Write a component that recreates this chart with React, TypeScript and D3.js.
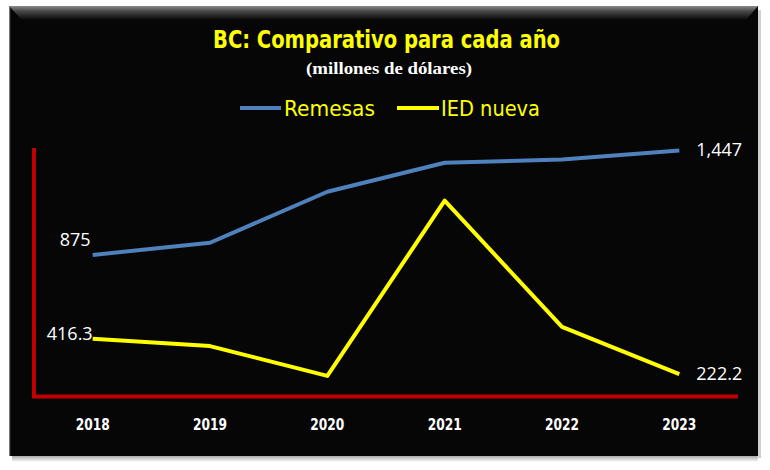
import React from "react";
import * as d3 from "d3";

const years = ["2018", "2019", "2020", "2021", "2022", "2023"];
const remesas = [875, 942, 1221, 1380, 1397, 1447];
const ied = [416.3, 376, 213, 1172, 481, 222.2];
const seriesNames = ["Remesas", "IED nueva"];
const yDomain = [100, 1500];

const W = 770;
const H = 470;

export default function App() {
  const x = d3.scaleBand<string>().domain(years).range([34, 738]);
  const cx = (d: string) => (x(d) as number) + x.bandwidth() / 2;
  const y = d3.scaleLinear().domain(yDomain).range([396.5, 140.8]);
  const line = d3
    .line<number>()
    .x((_, i) => cx(years[i]))
    .y((v) => y(v));

  const narrow = "'DejaVu Sans Condensed', 'Liberation Sans', sans-serif";
  const labelFont = "'Open Sans', 'Noto Sans', sans-serif";
  const last = years.length - 1;

  return (
    <svg
      width={W}
      height={H}
      style={{ position: "absolute", left: 0, top: 0, background: "#fff" }}
    >
      <defs>
        <linearGradient id="bevel" x1="0" y1="0" x2="0" y2="1">
          <stop offset="0" stopColor="#8a8a8a" />
          <stop offset="0.35" stopColor="#4a4a4a" />
          <stop offset="1" stopColor="#060606" />
        </linearGradient>
        <linearGradient id="shadow" x1="0" y1="0" x2="0" y2="1">
          <stop offset="0" stopColor="#9a9a9a" />
          <stop offset="1" stopColor="#ffffff" />
        </linearGradient>
      </defs>
      {/* shadow */}
      <rect x={12} y={455} width={746} height={7} fill="url(#shadow)" />
      <rect x={757} y={10} width={4} height={448} fill="#cfcfcf" />
      {/* panel */}
      <rect x={9} y={6} width={749} height={450} fill="#060606" />
      <path d="M9,6 L758,6 L746,20 L22,20 Z" fill="url(#bevel)" />
      <rect x={9} y={6} width={1.2} height={450} fill="#777" />

      {/* title */}
      <text
        x={213}
        y={48}
        textLength={347}
        lengthAdjust="spacingAndGlyphs"
        fill="#ffff00"
        fontFamily={narrow}
        fontWeight="bold"
        fontSize={25}
      >
        BC: Comparativo para cada año
      </text>
      <text
        x={306}
        y={74}
        textLength={166}
        lengthAdjust="spacingAndGlyphs"
        fill="#ffffff"
        fontFamily="'Liberation Serif', 'DejaVu Serif', serif"
        fontWeight="bold"
        fontSize={17}
      >
        (millones de dólares)
      </text>

      {/* legend */}
      <line x1={240} x2={281} y1={108} y2={108} stroke="#4f81bd" strokeWidth={4} />
      <text x={284} y={116} textLength={91} lengthAdjust="spacingAndGlyphs" fill="#ffff00" fontFamily={narrow} fontSize={22}>
        {seriesNames[0]}
      </text>
      <line x1={397} x2={439} y1={108} y2={108} stroke="#ffff00" strokeWidth={4} />
      <text x={441} y={116} textLength={99} lengthAdjust="spacingAndGlyphs" fill="#ffff00" fontFamily={narrow} fontSize={22}>
        {seriesNames[1]}
      </text>

      {/* axes */}
      <line x1={34} x2={34} y1={148} y2={398} stroke="#c00000" strokeWidth={4} />
      <line x1={32} x2={738} y1={396.5} y2={396.5} stroke="#c00000" strokeWidth={4} />

      {years.map((yr) => (
        <text
          key={yr}
          x={cx(yr) - 17}
          y={430}
          textLength={34}
          lengthAdjust="spacingAndGlyphs"
          fill="#ffffff"
          fontFamily="'DejaVu Sans Condensed', 'DejaVu Sans', sans-serif"
          fontWeight="bold"
          fontSize={15}
        >
          {yr}
        </text>
      ))}

      {/* lines */}
      <path d={line(remesas) || ""} fill="none" stroke="#4f81bd" strokeWidth={4} strokeLinejoin="round" />
      <path d={line(ied) || ""} fill="none" stroke="#ffff00" strokeWidth={4} strokeLinejoin="round" />

      {/* data labels */}
      <text x={cx(years[0]) - 2} y={y(remesas[0]) - 9} textAnchor="end" fill="#fff" fontFamily={labelFont} fontSize={18}>
        {d3.format(",")(remesas[0])}
      </text>
      <text x={cx(years[0])} y={y(ied[0]) + 1} textAnchor="end" fill="#fff" fontFamily={labelFont} fontSize={18}>
        {d3.format(".1f")(ied[0])}
      </text>
      <text x={cx(years[last]) + 17} y={y(remesas[last]) + 6} textAnchor="start" fill="#fff" fontFamily={labelFont} fontSize={18}>
        {d3.format(",")(remesas[last])}
      </text>
      <text x={cx(years[last]) + 17} y={y(ied[last]) + 6} textAnchor="start" fill="#fff" fontFamily={labelFont} fontSize={18}>
        {d3.format(".1f")(ied[last])}
      </text>
    </svg>
  );
}
